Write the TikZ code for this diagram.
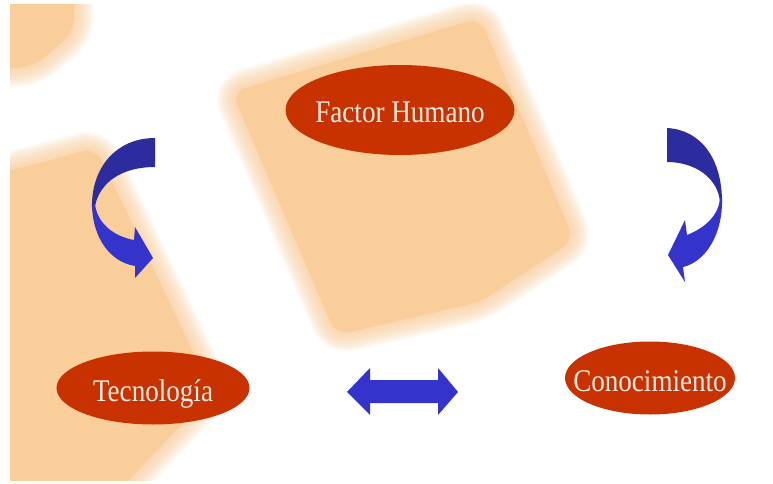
\documentclass[tikz,border=0pt]{standalone}
\usepackage{fontspec}
\setmainfont{Liberation Serif}
\usepackage{graphicx}
\usetikzlibrary{shapes.geometric,calc}
\definecolor{peach}{RGB}{250,206,154}
\definecolor{brick}{RGB}{200,50,0}
\definecolor{cream}{RGB}{246,236,228}
\definecolor{darkblue}{RGB}{44,44,158}
\definecolor{brightblue}{RGB}{52,52,204}
\newcommand{\ovaltext}[1]{\makebox[0pt]{\scalebox{0.86}[1]{#1}}}

\begin{document}
\begin{tikzpicture}[x=1pt,y=-1pt]

\tikzset{oval/.style={shape=ellipse,fill=brick,text=cream,inner sep=0pt,text height=26pt,text depth=0pt,font=\fontsize{31.5}{32}\selectfont},
blobedge/.style={peach,line join=round,rounded corners=14pt,opacity=0.09},
blobfill/.style={fill=peach,rounded corners=14pt},
upperpart/.style={fill=darkblue},
lowerpart/.style={fill=brightblue}}

% Frame
\fill[white] (0,0) rectangle (773,484);
\useasboundingbox (0,0) rectangle (773,484);

% Blurred squares
\begin{scope}
\clip (10,5) rectangle (773,480);
\foreach \w in {3,6,...,39} {
  \draw[blobedge,line width=\w pt] (0,-10) -- (74,-10) -- (74,32) -- (34,66) -- (0,70) -- cycle;
  \draw[blobedge,line width=\w pt] (232,92) -- (480,18) -- (574,240) -- (480,302) -- (336,335) -- cycle;
  \draw[blobedge,line width=\w pt] (-10,176) -- (96,148) -- (212,392) -- (110,500) -- (-10,500) -- cycle;
}
\fill[blobfill] (0,-10) -- (74,-10) -- (74,32) -- (34,66) -- (0,70) -- cycle;
\fill[blobfill] (232,92) -- (480,18) -- (574,240) -- (480,302) -- (336,335) -- cycle;
\fill[blobfill] (-10,176) -- (96,148) -- (212,392) -- (110,500) -- (-10,500) -- cycle;
\end{scope}

% Ovals
\node[oval,minimum width=229pt,minimum height=90pt] (human) at (400,110) {\ovaltext{Factor Humano}};
\node[oval,minimum width=193pt,minimum height=73pt] (tech) at (153,388) {\ovaltext{Tecnología}};
\node[oval,minimum width=170pt,minimum height=73pt] (know) at (650,378) {\ovaltext{Conocimiento}};

% Left twisted arrow
\fill[upperpart] (155,138) -- (155,167) .. controls (122,167) and (100,182) .. (95,206) -- (92,208) .. controls (91,168) and (116,138) .. cycle;
\fill[lowerpart] (92,206) .. controls (93,238) and (110,262) .. (135,266) -- (135,278) -- (153,258) -- (135,227) -- (134,240) .. controls (112,236) and (97,222) .. (95,204) -- cycle;

% Right twisted arrow
\fill[upperpart] (667,128) -- (667,162) .. controls (695,162) and (718,178) .. (720,202) -- (722,202) .. controls (722,160) and (702,130) .. cycle;
\fill[lowerpart] (722,198) .. controls (723,235) and (705,262) .. (683,267) -- (685,282) -- (668,255) -- (685,220) -- (687,235) .. controls (705,228) and (719,215) .. (720,198) -- cycle;

% Double arrow
\fill[lowerpart] (347,392) -- (370,368) -- (370,380) -- (438,380) -- (438,368) -- (458,392) -- (438,415) -- (438,403) -- (370,403) -- (370,415) -- cycle;

\end{tikzpicture}
\end{document}
